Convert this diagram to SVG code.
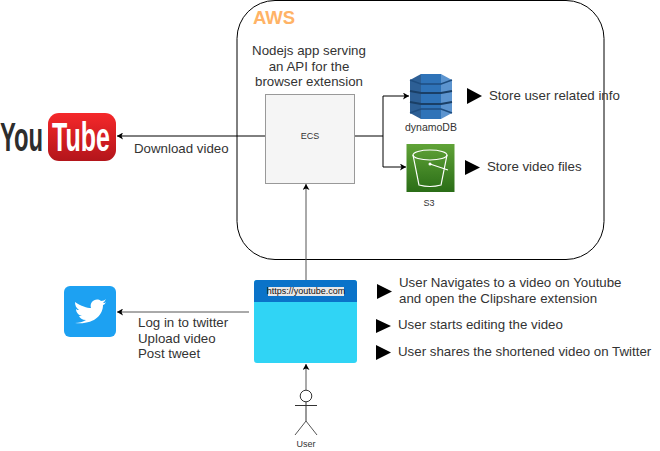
<svg xmlns="http://www.w3.org/2000/svg" width="660" height="451" viewBox="0 0 660 451">
<style>
.t{font-family:"Liberation Sans",Arial,sans-serif;fill:#333;font-size:13.300px}
.s{font-size:9px;text-anchor:middle;fill:#333}
.c{fill:none;stroke:#000;stroke-width:1}
.g{fill:none;stroke:#555;stroke-width:1}
.b{fill:#000}
.y{font-family:"Liberation Sans",sans-serif;font-weight:bold;font-size:41px}
</style>
<defs>
<marker id="a" markerWidth="7" markerHeight="7" refX="6" refY="3.5" orient="auto" markerUnits="userSpaceOnUse"><path d="M0 0L6 3.500L0 7L1.500 3.500Z" fill="#000"/></marker>
<linearGradient id="yt" x1="0" y1="0" x2="0" y2="1"><stop offset="0" stop-color="#f5282a"/><stop offset="1" stop-color="#b3151b"/></linearGradient>
<linearGradient id="s3" x1="0" y1="0" x2="0" y2="1"><stop offset="0" stop-color="#60a337"/><stop offset="1" stop-color="#2a6d17"/></linearGradient>
</defs>
<rect width="660" height="451" fill="#fff"/>
<g id="aws"><rect x="237" y="0.500" width="367" height="259" rx="38" fill="#fff" stroke="#000" stroke-width="1"/>
<text x="253" y="24" class="t" style="font-size:18.500px;font-weight:bold;fill:#ffb366">AWS</text></g>
<g id="connectors">
<path class="c" d="M265 136H117" marker-end="url(#a)"/>
<path class="c" d="M354 136H383V96H409" marker-end="url(#a)"/>
<path class="c" d="M383 136V167H406" marker-end="url(#a)"/>
<path class="g" d="M306 280V184" marker-end="url(#a)"/>
<path class="g" d="M249 312H117" marker-end="url(#a)"/>
<path class="g" d="M306 390V364" marker-end="url(#a)"/>
</g>
<g id="youtube">
<text transform="translate(0 151) scale(.58 1)" class="y" style="fill:#2d2d2d">You</text>
<rect x="48" y="113" width="68" height="48" rx="11" fill="url(#yt)"/>
<text transform="translate(52 151) scale(.61 1)" class="y" style="fill:#fff">Tube</text>
</g>
<g id="download-label"><text x="134" y="153" class="t">Download video</text></g>
<g id="ecs"><rect x="265.500" y="94.500" width="89" height="89" fill="#f5f5f5" stroke="#999"/>
<text x="310" y="139" class="t s">ECS</text></g>
<g id="ecs-label" class="t" text-anchor="middle"><text x="309" y="55">Nodejs app serving</text><text x="309" y="71">an API for the</text><text x="309" y="86">browser extension</text></g>
<g id="dynamodb">
<path d="M410 80L421 74V119L410 113Z" fill="#2d5f95"/>
<path d="M441 74L452 80V113L441 119Z" fill="#5c94cf"/>
<rect x="421" y="74" width="20" height="45" fill="#2f73b8"/>
<path d="M410 80L421 84H441L452 80M410 113L421 109H441L452 113" fill="none" stroke="#1f4e80" stroke-width="1.500"/>
<path d="M410 91L421 93H441L452 91M410 102L421 104H441L452 102" fill="none" stroke="#1a3f66" stroke-width="2"/>
<text x="431" y="131" class="t s" style="font-size:10.500px">dynamoDB</text></g>
<g id="s3"><rect x="406.500" y="144" width="48" height="48" fill="url(#s3)"/>
<ellipse cx="430" cy="155" rx="17" ry="5" fill="none" stroke="#fff" stroke-width="1.200"/>
<path d="M413 155L419 185Q430 188 441 185L447 155M430 164L448 170" fill="none" stroke="#fff" stroke-width="1.200"/>
<circle cx="430" cy="164" r="1.500" fill="#fff"/>
<text x="429" y="206" class="t s">S3</text></g>
<g id="notes-aws"><path class="b" d="M467 88L482 96L467 104Z"/><text x="489" y="100" class="t">Store user related info</text>
<path class="b" d="M465 160L480 167.500L465 175Z"/><text x="487" y="171" class="t">Store video files</text></g>
<g id="twitter"><rect x="64" y="286" width="52" height="51" rx="6" fill="#1da1f2"/>
<path d="M75 302C81 306 87 308 91 308C89 302 96 297 101 301C103 301 105 300 106 299C105 301 104 302 103 303C104 303 105 303 106 302C105 304 104 305 103 305C103 315 94 325 75 323C79 323 83 322 86 320C82 320 80 318 79 316H82C78 315 76 312 76 309C77 310 78 310 79 310C76 308 75 305 75 302Z" fill="#fff"/></g>
<g id="twitter-label" class="t"><text x="138" y="327">Log in to twitter</text><text x="138" y="343">Upload video</text><text x="138" y="358">Post tweet</text></g>
<g id="browser"><rect x="254" y="280" width="103" height="83" rx="3" fill="#30d4f5"/>
<path d="M254 302V283Q254 280 257 280H354Q357 280 357 283V302Z" fill="#0a73c9"/>
<rect x="268" y="287" width="76" height="9" fill="#e8e8e8"/>
<text x="306" y="294" class="t s" style="fill:#111">https://youtube.com</text></g>
<g id="notes-user">
<path class="b" d="M377 284L392 291.500L377 299Z"/><text x="399" y="287" class="t">User Navigates to a video on Youtube</text><text x="399" y="303" class="t">and open the Clipshare extension</text>
<path class="b" d="M376 319L391 326L376 333Z"/><text x="398" y="329" class="t">User starts editing the video</text>
<path class="b" d="M376 345L391 352.500L376 360Z"/><text x="398" y="356" class="t">User shares the shortened video on Twitter</text></g>
<g id="user"><circle cx="306" cy="396" r="5.800" fill="#fff" stroke="#333"/>
<path d="M306 402V421M295 405.500H317" fill="none" stroke="#333"/><path d="M295 435L306 421L317 435" fill="none" stroke="#555"/>
<text x="306" y="447" class="t s">User</text></g>
</svg>
